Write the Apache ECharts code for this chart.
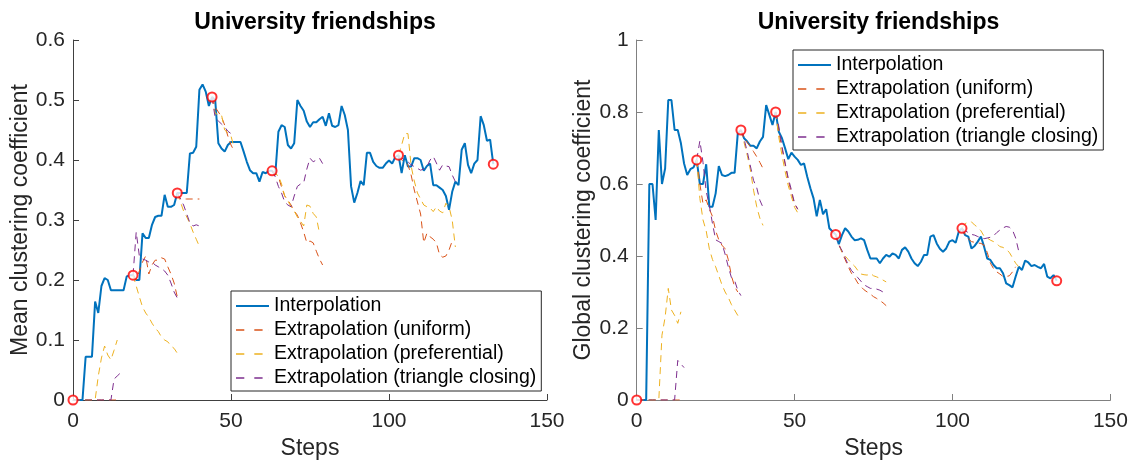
<!DOCTYPE html>
<html>
<head>
<meta charset="utf-8">
<title>University friendships</title>
<script src="https://cdn.jsdelivr.net/npm/echarts@6/dist/echarts.min.js"></script>
<style>
  html, body { margin: 0; padding: 0; background: #fff; }
  #chart { width: 1129px; height: 461px; }
</style>
</head>
<body>
<div id="chart"></div>
<script>
// Steps axis ticks and snapshot steps (red circles)
const stepTicks = [0, 50, 100, 150];
const snapshotSteps = [0, 19, 33, 44, 63, 103, 133];

// Mean clustering coefficient, interpolated network, steps 0..133
const meanInterp = [
  0, 0, 0, 0, 0.072, 0.072, 0.072, 0.164, 0.145, 0.19,
  0.203, 0.2, 0.183, 0.183, 0.183, 0.183, 0.183, 0.206, 0.208, 0.208,
  0.2, 0.2, 0.278, 0.27, 0.27, 0.292, 0.305, 0.307, 0.307, 0.342,
  0.322, 0.322, 0.325, 0.345, 0.345, 0.345, 0.345, 0.411, 0.412, 0.422,
  0.517, 0.526, 0.514, 0.49, 0.505, 0.5, 0.428, 0.419, 0.414, 0.425,
  0.43, 0.43, 0.43, 0.43, 0.414, 0.397, 0.383, 0.378, 0.378, 0.364,
  0.38, 0.378, 0.382, 0.382, 0.375, 0.447, 0.458, 0.455, 0.425, 0.419,
  0.428, 0.5, 0.49, 0.482, 0.464, 0.455, 0.463, 0.463, 0.468, 0.472,
  0.457, 0.478, 0.457, 0.455, 0.458, 0.49, 0.475, 0.45, 0.356, 0.329,
  0.345, 0.365, 0.358, 0.412, 0.412, 0.397, 0.39, 0.387, 0.387, 0.394,
  0.399, 0.394, 0.405, 0.408, 0.378, 0.408, 0.389, 0.389, 0.403, 0.403,
  0.4, 0.382, 0.39, 0.394, 0.358, 0.358, 0.354, 0.35, 0.34, 0.317,
  0.347, 0.364, 0.358, 0.417, 0.428, 0.392, 0.378, 0.394, 0.4, 0.473,
  0.458, 0.432, 0.434, 0.393
];

// Global clustering coefficient, interpolated network, steps 0..133
const globalInterp = [
  0, 0, 0, 0, 0.6, 0.6, 0.5, 0.75, 0.6, 0.643,
  0.833, 0.833, 0.75, 0.75, 0.713, 0.657, 0.625, 0.641, 0.646, 0.667,
  0.6, 0.6, 0.655, 0.537, 0.537, 0.574, 0.65, 0.625, 0.622, 0.625,
  0.631, 0.631, 0.74, 0.75, 0.727, 0.718, 0.706, 0.706, 0.699, 0.718,
  0.731, 0.819, 0.792, 0.764, 0.8, 0.745, 0.727, 0.699, 0.669, 0.687,
  0.676, 0.667, 0.653, 0.657, 0.62, 0.588, 0.56, 0.51, 0.556, 0.516,
  0.53, 0.477, 0.468, 0.46, 0.433, 0.458, 0.477, 0.468, 0.454, 0.444,
  0.445, 0.449, 0.444, 0.417, 0.393, 0.393, 0.393, 0.38, 0.393, 0.403,
  0.398, 0.407, 0.403, 0.393, 0.417, 0.424, 0.412, 0.393, 0.38, 0.372,
  0.384, 0.403, 0.403, 0.454, 0.458, 0.435, 0.42, 0.412, 0.421, 0.44,
  0.444, 0.437, 0.468, 0.477, 0.458, 0.454, 0.421, 0.428, 0.44, 0.454,
  0.426, 0.393, 0.389, 0.375, 0.366, 0.366, 0.352, 0.324, 0.319, 0.313,
  0.343, 0.37, 0.361, 0.387, 0.382, 0.372, 0.375, 0.37, 0.366, 0.378,
  0.343, 0.338, 0.347, 0.331
];

// Extrapolation runs: [start step, values for consecutive steps]
const meanUniform = [
  [0, [0, 0, 0, 0, 0, 0, 0, 0, 0, 0, 0, 0, 0, 0, 0, 0]],
  [19, [0.208, 0.2, 0.215, 0.23, 0.24, 0.21, 0.225, 0.233, 0.233, 0.237, 0.235, 0.222, 0.21, 0.195, 0.172]],
  [33, [0.345, 0.335, 0.335, 0.335, 0.335, 0.335, 0.335, 0.335]],
  [44, [0.505, 0.488, 0.48, 0.472, 0.458, 0.44, 0.425, 0.415]],
  [63, [0.382, 0.378, 0.372, 0.355, 0.34, 0.333, 0.325, 0.315, 0.308, 0.295, 0.28, 0.262, 0.265, 0.262, 0.248, 0.235, 0.225]],
  [103, [0.408, 0.4, 0.397, 0.392, 0.375, 0.35, 0.33, 0.31, 0.262, 0.278, 0.272, 0.268, 0.262, 0.242, 0.238, 0.24, 0.25, 0.265]]
];
const meanPreferential = [
  [0, [0, 0, 0, 0, 0, 0, 0, 0, 0.04, 0.07, 0.09, 0.075, 0.067, 0.083, 0.1]],
  [19, [0.208, 0.19, 0.172, 0.155, 0.145, 0.138, 0.128, 0.12, 0.114, 0.105, 0.1, 0.097, 0.09, 0.086, 0.078]],
  [33, [0.345, 0.33, 0.315, 0.305, 0.294, 0.28, 0.268, 0.256]],
  [44, [0.505, 0.478, 0.475, 0.475, 0.45, 0.445, 0.44, 0.42]],
  [63, [0.382, 0.377, 0.374, 0.36, 0.34, 0.332, 0.322, 0.315, 0.305, 0.298, 0.29, 0.325, 0.323, 0.311, 0.305, 0.278]],
  [103, [0.408, 0.425, 0.444, 0.444, 0.39, 0.365, 0.345, 0.335, 0.325, 0.322, 0.32, 0.314, 0.322, 0.315, 0.312, 0.328, 0.322, 0.3, 0.255]]
];
const meanTriangle = [
  [0, [0, 0, 0, 0, 0, 0, 0, 0, 0, 0, 0, 0, 0, 0.035, 0.04, 0.045]],
  [19, [0.208, 0.28, 0.24, 0.235, 0.233, 0.23, 0.23, 0.225, 0.222, 0.219, 0.215, 0.208, 0.195, 0.18, 0.17]],
  [33, [0.345, 0.335, 0.325, 0.31, 0.295, 0.29, 0.292, 0.29]],
  [44, [0.505, 0.47, 0.465, 0.46, 0.455, 0.448, 0.444, 0.44]],
  [63, [0.382, 0.372, 0.356, 0.345, 0.33, 0.325, 0.322, 0.34, 0.356, 0.36, 0.362, 0.385, 0.403, 0.397, 0.4, 0.403, 0.394]],
  [103, [0.408, 0.403, 0.4, 0.397, 0.392, 0.389, 0.386, 0.383, 0.385, 0.389, 0.4, 0.406, 0.395, 0.383, 0.392, 0.39, 0.389, 0.375, 0.364]]
];

const globalUniform = [
  [0, [0, 0, 0, 0, 0, 0, 0, 0, 0, 0, 0, 0, 0, 0, 0, 0]],
  [19, [0.667, 0.6, 0.545, 0.556, 0.53, 0.51, 0.47, 0.445, 0.43, 0.42, 0.39, 0.345, 0.315, 0.3]],
  [33, [0.75, 0.73, 0.715, 0.704, 0.69, 0.676, 0.66, 0.643]],
  [44, [0.8, 0.745, 0.7, 0.655, 0.61, 0.575, 0.545, 0.53]],
  [63, [0.46, 0.435, 0.41, 0.39, 0.37, 0.352, 0.34, 0.325, 0.315, 0.306, 0.3, 0.294, 0.287, 0.282, 0.276, 0.27, 0.262]],
  [103, [0.477, 0.46, 0.448, 0.44, 0.438, 0.436, 0.435, 0.43, 0.41, 0.38, 0.365, 0.356, 0.35, 0.343, 0.343, 0.345, 0.356, 0.37]]
];
const globalPreferential = [
  [0, [0, 0, 0, 0, 0, 0, 0, 0, 0.18, 0.23, 0.31, 0.25, 0.235, 0.213, 0.245]],
  [19, [0.667, 0.56, 0.5, 0.47, 0.42, 0.39, 0.37, 0.345, 0.32, 0.3, 0.285, 0.265, 0.25, 0.235, 0.225]],
  [33, [0.75, 0.715, 0.68, 0.639, 0.583, 0.537, 0.505, 0.485]],
  [44, [0.8, 0.73, 0.68, 0.635, 0.595, 0.565, 0.535, 0.52]],
  [63, [0.46, 0.43, 0.412, 0.4, 0.39, 0.38, 0.372, 0.36, 0.35, 0.348, 0.347, 0.352, 0.345, 0.342, 0.338, 0.333, 0.328]],
  [103, [0.477, 0.49, 0.494, 0.495, 0.486, 0.48, 0.47, 0.455, 0.45, 0.444, 0.44, 0.435, 0.426, 0.424, 0.418, 0.41, 0.395, 0.38, 0.37]]
];
const globalTriangle = [
  [0, [0, 0, 0, 0, 0, 0, 0, 0, 0, 0, 0, 0, 0, 0.11, 0.1, 0.09]],
  [19, [0.667, 0.72, 0.66, 0.58, 0.54, 0.49, 0.445, 0.44, 0.435, 0.405, 0.37, 0.34, 0.332, 0.305, 0.29]],
  [33, [0.75, 0.725, 0.69, 0.65, 0.61, 0.59, 0.555, 0.535]],
  [44, [0.8, 0.76, 0.705, 0.658, 0.616, 0.583, 0.546, 0.53]],
  [63, [0.46, 0.43, 0.415, 0.395, 0.375, 0.36, 0.35, 0.34, 0.33, 0.32, 0.315, 0.31, 0.31, 0.308, 0.305, 0.3]],
  [103, [0.477, 0.47, 0.465, 0.46, 0.458, 0.454, 0.45, 0.448, 0.45, 0.452, 0.456, 0.465, 0.472, 0.478, 0.482, 0.48, 0.472, 0.45, 0.412]]
];

const FONT = "'Liberation Sans', Arial, Helvetica, sans-serif";
const TEXT = '#262626';
const C_BLUE = '#0072BD';
const C_ORANGE = '#D95319';
const C_YELLOW = '#EDB120';
const C_PURPLE = '#7E2F8E';
const NAMES = ['Interpolation', 'Extrapolation (uniform)', 'Extrapolation (preferential)', 'Extrapolation (triangle closing)'];

// Legend samples: a solid bar and two short dashes, both 33 units wide
const ICON_SOLID = 'path://M0,0h33v2h-33z';
const ICON_DASHED = 'path://M0,0h8.3v1.5h-8.3zM18.3,0h8.3v1.5h-8.3zM32.95,0h0.05v1.5h-0.05z';

function curve(values) {
  return values.map((v, i) => [i, v]);
}
// Join runs into one series, breaking the line between runs
function runs(list) {
  const out = [];
  list.forEach(([start, vals], k) => {
    if (k > 0) out.push([start - 0.5, '-']);
    vals.forEach((v, i) => out.push([start + i, v]));
  });
  return out;
}
function snapshots(values) {
  return snapshotSteps.map(s => [s, values[s]]);
}

function axesFor(idx, yName, yMax, yInterval, axisColor, yNameGap) {
  const lineStyle = { color: axisColor, width: 1 };
  return {
    x: {
      type: 'value', gridIndex: idx, min: stepTicks[0], max: stepTicks[stepTicks.length - 1], interval: 50,
      name: 'Steps', nameLocation: 'middle', nameGap: 36,
      nameTextStyle: { fontFamily: FONT, fontSize: 23, color: TEXT },
      axisLine: { lineStyle }, axisTick: { inside: true, length: 6, lineStyle },
      axisLabel: { fontFamily: FONT, fontSize: 21, color: TEXT, margin: 11 },
      splitLine: { show: false }
    },
    y: {
      type: 'value', gridIndex: idx, min: 0, max: yMax, interval: yInterval,
      name: yName, nameLocation: 'middle', nameGap: yNameGap,
      nameTextStyle: { fontFamily: FONT, fontSize: 23, color: TEXT },
      axisLine: { show: true, lineStyle }, axisTick: { show: true, inside: true, length: 6, lineStyle },
      axisLabel: { fontFamily: FONT, fontSize: 21, color: TEXT, margin: 8 },
      splitLine: { show: false }
    }
  };
}

function seriesFor(idx, interp, uni, pref, tri) {
  const dashed = (name, color, data) => ({
    name, type: 'line', xAxisIndex: idx, yAxisIndex: idx, data,
    symbol: 'none', lineStyle: { color, width: 1, type: [7, 5] }, itemStyle: { color },
    z: 3
  });
  return [
    {
      name: NAMES[0], type: 'line', xAxisIndex: idx, yAxisIndex: idx, data: curve(interp),
      symbol: 'none', lineStyle: { color: C_BLUE, width: 2 }, itemStyle: { color: C_BLUE }, z: 2
    },
    dashed(NAMES[1], C_ORANGE, runs(uni)),
    dashed(NAMES[2], C_YELLOW, runs(pref)),
    dashed(NAMES[3], C_PURPLE, runs(tri)),
    {
      name: 'snapshots', type: 'scatter', xAxisIndex: idx, yAxisIndex: idx, data: snapshots(interp),
      symbol: 'emptyCircle', symbolSize: 9, clip: false,
      itemStyle: { color: '#FF0000', borderColor: '#FF0000', borderWidth: 1 }, z: 5
    }
  ];
}

const left = axesFor(0, 'Mean clustering coefficient', 0.6, 0.1, '#404040', 37);
const right = axesFor(1, 'Global clustering coefficient', 1, 0.2, '#808080', 40);

const legendBase = {
  orient: 'vertical',
  data: NAMES.map((n, i) => ({ name: n, icon: i === 0 ? ICON_SOLID : ICON_DASHED })),
  itemWidth: 33, itemHeight: 12, itemGap: 4,
  borderColor: '#262626', borderWidth: 1, padding: [5, 5, 3, 5], backgroundColor: '#fff',
  textStyle: { fontFamily: FONT, fontSize: 19.5, color: '#000', lineHeight: 20 },
  selectedMode: false
};

const chart = echarts.init(document.getElementById('chart'), null, { renderer: 'canvas' });
chart.setOption({
  animation: false,
  backgroundColor: '#fff',
  title: [
    { text: 'University friendships', left: 310, top: 6, textAlign: 'center',
      textStyle: { fontFamily: FONT, fontSize: 23, fontWeight: 'bold', color: '#000' } },
    { text: 'University friendships', left: 873.5, top: 6, textAlign: 'center',
      textStyle: { fontFamily: FONT, fontSize: 23, fontWeight: 'bold', color: '#000' } }
  ],
  // Fixed plot rectangles; labels may sit close to the canvas edge
  grid: [
    { left: 73, top: 40, width: 474, height: 360, outerBoundsMode: 'none', containLabel: false },
    { left: 636.7, top: 40, width: 473.7, height: 360, outerBoundsMode: 'none', containLabel: false }
  ],
  xAxis: [left.x, right.x],
  yAxis: [left.y, right.y],
  legend: [
    Object.assign({}, legendBase, { left: 231, top: 291 }),
    Object.assign({}, legendBase, { left: 793, top: 50 })
  ],
  series: [
    ...seriesFor(0, meanInterp, meanUniform, meanPreferential, meanTriangle),
    ...seriesFor(1, globalInterp, globalUniform, globalPreferential, globalTriangle)
  ]
});
</script>
</body>
</html>
